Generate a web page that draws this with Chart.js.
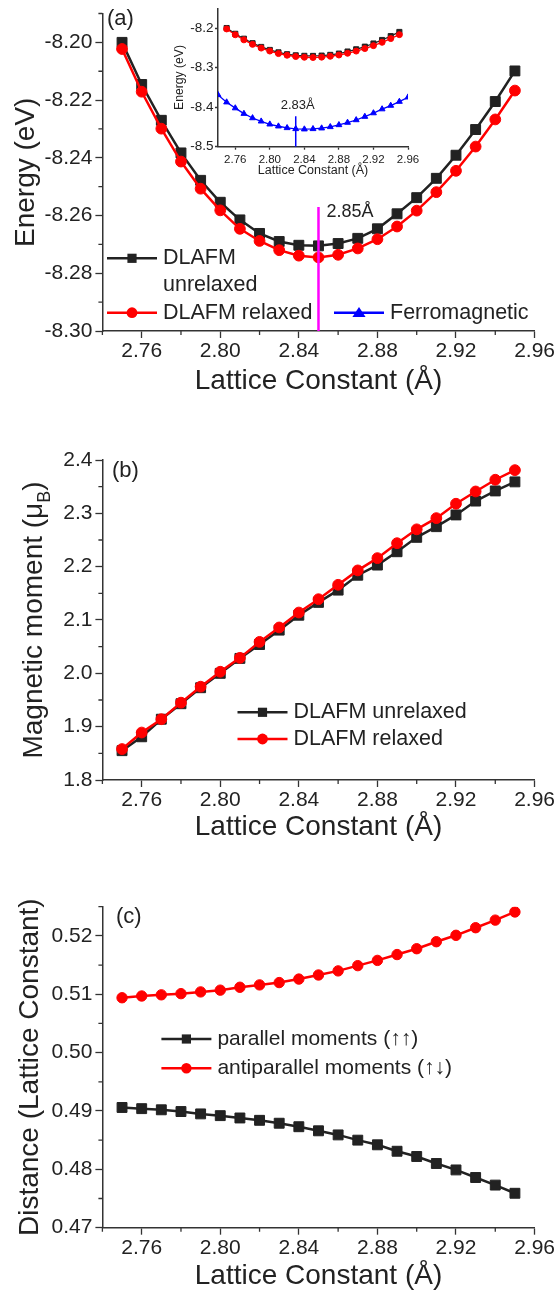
<!DOCTYPE html>
<html>
<head>
<meta charset="utf-8">
<title>DLAFM energy, moment and distance vs lattice constant</title>
<script src="https://cdn.jsdelivr.net/npm/chart.js@4.4.1/dist/chart.umd.min.js"></script>
<style>
  html, body { margin: 0; padding: 0; background: #fff; }
  body { position: relative; width: 558px; height: 1292px; overflow: hidden; }
  canvas { position: absolute; left: 0; }
</style>
</head>
<body>
<canvas id="energy" width="558" height="400" style="top:0"></canvas>
<canvas id="energyInset" width="265" height="182" style="top:0;left:160px"></canvas>
<canvas id="moment" width="558" height="420" style="top:430px"></canvas>
<canvas id="distance" width="558" height="412" style="top:880px"></canvas>
<script>
// lattice constants (Å) used for the DLAFM runs
const lattice = [2.75, 2.76, 2.77, 2.78, 2.79, 2.80, 2.81, 2.82, 2.83, 2.84, 2.85,
                 2.86, 2.87, 2.88, 2.89, 2.90, 2.91, 2.92, 2.93, 2.94, 2.95];
// ferromagnetic run (inset) covers a slightly wider range
const latticeFerro = [2.74, 2.75, 2.76, 2.77, 2.78, 2.79, 2.80, 2.81, 2.82, 2.83, 2.84, 2.85,
                      2.86, 2.87, 2.88, 2.89, 2.90, 2.91, 2.92, 2.93, 2.94, 2.95, 2.96];

// (a) total energy, eV
const energyUnrelaxed = [-8.2000, -8.2146, -8.2270, -8.2383, -8.2478, -8.2554, -8.2615, -8.2662, -8.2690, -8.2703, -8.2705,
                         -8.2697, -8.2679, -8.2646, -8.2594, -8.2538, -8.2471, -8.2391, -8.2302, -8.2205, -8.2099];
const energyRelaxed = [-8.2023, -8.2171, -8.2299, -8.2413, -8.2507, -8.2582, -8.2646, -8.2688, -8.2720, -8.2739, -8.2745,
                       -8.2736, -8.2714, -8.2682, -8.2638, -8.2583, -8.2519, -8.2445, -8.2361, -8.2267, -8.2167];
const energyFerro = [-8.369, -8.3875, -8.4025, -8.4165, -8.4275, -8.4358, -8.4433, -8.4483, -8.4525, -8.4550, -8.4558, -8.4550,
                     -8.4533, -8.4500, -8.4450, -8.4390, -8.4325, -8.4240, -8.4150, -8.4050, -8.3960, -8.3860, -8.3750];

// (b) magnetic moment, muB
const momentUnrelaxed = [1.855, 1.881, 1.914, 1.943, 1.973, 2.000, 2.028, 2.054, 2.081, 2.109, 2.133,
                         2.156, 2.184, 2.203, 2.228, 2.255, 2.275, 2.297, 2.323, 2.342, 2.359];
const momentRelaxed = [1.858, 1.889, 1.914, 1.945, 1.975, 2.003, 2.029, 2.059, 2.086, 2.114, 2.139,
                       2.166, 2.193, 2.216, 2.244, 2.270, 2.291, 2.318, 2.341, 2.363, 2.381];

// (c) distance in units of the lattice constant
const distParallel = [0.4906, 0.4904, 0.4902, 0.4899, 0.4895, 0.4892, 0.4888, 0.4884, 0.4879, 0.4873, 0.4866,
                      0.4859, 0.4850, 0.4842, 0.4831, 0.4822, 0.4810, 0.4799, 0.4786, 0.4773, 0.4759];
const distAntiparallel = [0.5094, 0.5097, 0.5099, 0.5101, 0.5104, 0.5107, 0.5112, 0.5116, 0.5120, 0.5126, 0.5133,
                          0.5140, 0.5149, 0.5158, 0.5168, 0.5178, 0.5190, 0.5201, 0.5214, 0.5227, 0.5241];

// energy minima marked with vertical lines
const minRelaxed = { x: 2.85, from: -8.30, to: -8.257, label: '2.85Å' };
const minFerro = { x: 2.83, from: -8.50, to: -8.423, label: '2.83Å' };

// tick labels
const latticeTicks = [2.76, 2.80, 2.84, 2.88, 2.92, 2.96];
const latticeMinor = [2.74, 2.78, 2.82, 2.86, 2.90, 2.94];
const energyTicks = [-8.30, -8.28, -8.26, -8.24, -8.22, -8.20];
const energyMinor = [-8.29, -8.27, -8.25, -8.23, -8.21, -8.19];
const insetEnergyTicks = [-8.5, -8.4, -8.3, -8.2];
const momentTicks = [1.8, 1.9, 2.0, 2.1, 2.2, 2.3, 2.4];
const momentMinor = [1.85, 1.95, 2.05, 2.15, 2.25, 2.35];
const distTicks = [0.47, 0.48, 0.49, 0.50, 0.51, 0.52];
const distMinor = [0.475, 0.485, 0.495, 0.505, 0.515, 0.525];

const FONT = "'Liberation Sans', Arial, Helvetica, sans-serif";
const BLACK = '#222222';
const RED = '#ff0000';
const BLUE = '#0000ff';
const AXIS = '#333333';
Chart.defaults.font.family = FONT;
Chart.defaults.color = BLACK;

const pts = (xs, ys) => xs.map((x, i) => ({ x: x, y: ys[i] }));

function series(ys, xs, color, style, r, width, order) {
  return {
    data: pts(xs, ys), borderColor: color, backgroundColor: color, borderWidth: width,
    pointStyle: style, pointRadius: r, pointHoverRadius: r, pointBackgroundColor: color,
    pointBorderColor: color, pointBorderWidth: 1, tension: 0, order: order
  };
}

function vline(m, color, width) {
  return {
    data: [{ x: m.x, y: m.from }, { x: m.x, y: m.to }], borderColor: color, borderWidth: width,
    pointRadius: 0, order: -1
  };
}

function xAxis(o) {
  return {
    type: 'linear', min: 2.74, max: 2.96,
    afterBuildTicks: s => { s.ticks = latticeTicks.map(v => ({ value: v })); },
    afterFit: s => { s.height = o.height; },
    grid: { drawOnChartArea: false, tickLength: o.tickLength, tickWidth: 1.3, tickColor: AXIS },
    border: { color: AXIS, width: 1.5 },
    ticks: { font: { size: o.size, lineHeight: 1 }, color: BLACK, padding: o.pad, autoSkip: false,
             maxRotation: 0, callback: v => v.toFixed(2) },
    title: { display: true, text: 'Lattice Constant (Å)', color: BLACK,
             font: { size: o.titleSize, lineHeight: 1 }, padding: { top: 0, bottom: o.titlePad } }
  };
}

function yAxis(o) {
  return {
    type: 'linear', min: o.min, max: o.max,
    afterBuildTicks: s => { s.ticks = o.ticks.map(v => ({ value: v })); },
    afterFit: s => { s.width = o.width; },
    grid: { drawOnChartArea: false, tickLength: o.tickLength, tickWidth: 1.3, tickColor: AXIS },
    border: { color: AXIS, width: 1.5 },
    ticks: { font: { size: o.size, lineHeight: 1 }, color: BLACK, padding: o.pad, autoSkip: false,
             callback: v => v.toFixed(o.digits) }
  };
}

function marker(ctx, style, x, y, r, color) {
  ctx.fillStyle = color;
  ctx.beginPath();
  if (style === 'rect') ctx.rect(x - r, y - r, 2 * r, 2 * r);
  else if (style === 'circle') ctx.arc(x, y, r, 0, 2 * Math.PI);
  else { ctx.moveTo(x, y - r * 1.05); ctx.lineTo(x + r * 1.2, y + r * 0.8); ctx.lineTo(x - r * 1.2, y + r * 0.8); ctx.closePath(); }
  ctx.fill();
}

// minor ticks, rotated y title, panel tag, legend and notes
const decor = {
  id: 'decor',
  afterDraw(chart, args, o) {
    const ctx = chart.ctx, a = chart.chartArea, xs = chart.scales.x, ys = chart.scales.y;
    ctx.save();
    ctx.strokeStyle = AXIS;
    ctx.lineWidth = 1.3;
    ctx.beginPath();
    (o.xMinor || []).forEach(v => {
      const p = xs.getPixelForValue(v);
      ctx.moveTo(p, a.bottom); ctx.lineTo(p, a.bottom + o.minorLen);
    });
    (o.yMinor || []).forEach(v => {
      const p = ys.getPixelForValue(v);
      ctx.moveTo(a.left, p); ctx.lineTo(a.left - o.minorLen, p);
    });
    ctx.stroke();

    if (o.yTitle) {
      const t = o.yTitle;
      ctx.save();
      ctx.translate(t.x, (a.top + a.bottom) / 2);
      ctx.rotate(-Math.PI / 2);
      ctx.fillStyle = BLACK;
      ctx.textBaseline = 'alphabetic';
      ctx.textAlign = 'left';
      const fontOf = sub => (sub ? t.subSize : t.size) + 'px ' + FONT;
      let total = 0;
      t.parts.forEach(([s, sub]) => { ctx.font = fontOf(sub); total += ctx.measureText(s).width; });
      let cx = -total / 2;
      t.parts.forEach(([s, sub]) => {
        ctx.font = fontOf(sub);
        ctx.fillText(s, cx, sub ? t.subShift : 0);
        cx += ctx.measureText(s).width;
      });
      ctx.restore();
    }

    ctx.fillStyle = BLACK;
    ctx.textBaseline = 'middle';
    ctx.textAlign = 'left';
    if (o.tag) {
      ctx.font = o.tag.size + 'px ' + FONT;
      ctx.fillText(o.tag.text, o.tag.x, o.tag.y);
    }

    (o.legend || []).forEach(it => {
      ctx.strokeStyle = it.color;
      ctx.lineWidth = 2.5;
      ctx.beginPath();
      ctx.moveTo(it.x1, it.y); ctx.lineTo(it.x2, it.y);
      ctx.stroke();
      marker(ctx, it.style, (it.x1 + it.x2) / 2, it.y, it.r, it.color);
      ctx.fillStyle = BLACK;
      ctx.font = o.legendSize + 'px ' + FONT;
      it.lines.forEach((s, k) => ctx.fillText(s, it.x2 + 6, it.y + k * 26.7));
    });

    (o.notes || []).forEach(n => {
      ctx.font = n.size + 'px ' + FONT;
      ctx.textAlign = n.align;
      ctx.fillText(n.text, xs.getPixelForValue(n.x) + n.dx, ys.getPixelForValue(n.y) + n.dy);
    });
    ctx.restore();
  }
};

const base = {
  responsive: false,
  animation: false,
  events: [],
  plugins: { legend: { display: false }, tooltip: { enabled: false } }
};

// (a) energy
new Chart(document.getElementById('energy'), {
  type: 'line',
  data: { datasets: [
    vline(minRelaxed, '#ff00ff', 2.5),
    series(energyRelaxed, lattice, RED, 'circle', 5.4, 2.5, 0),
    series(energyUnrelaxed, lattice, BLACK, 'rect', 7, 2.5, 1)
  ] },
  options: Object.assign({}, base, {
    layout: { padding: { top: 11.7, right: 23, left: 0, bottom: 0 } },
    scales: {
      x: xAxis({ height: 69, tickLength: 7, size: 21, pad: 3, titleSize: 28, titlePad: 4.5 }),
      y: yAxis({ min: -8.30, max: -8.19, ticks: energyTicks, width: 102.4, tickLength: 7, size: 21, pad: 3, digits: 2 })
    },
    plugins: Object.assign({}, base.plugins, { decor: {
      minorLen: 4, xMinor: latticeMinor, yMinor: energyMinor,
      yTitle: { parts: [['Energy (eV)', 0]], x: 34, size: 28 },
      tag: { text: '(a)', x: 107, y: 19, size: 22 },
      legendSize: 21.5,
      legend: [
        { lines: ['DLAFM', 'unrelaxed'], color: BLACK, style: 'rect', r: 4.6, x1: 107, x2: 157, y: 258.3 },
        { lines: ['DLAFM relaxed'], color: RED, style: 'circle', r: 5.4, x1: 107, x2: 157, y: 312.7 },
        { lines: ['Ferromagnetic'], color: BLUE, style: 'triangle', r: 5.5, x1: 334, x2: 384, y: 312.7 }
      ],
      notes: [{ text: minRelaxed.label, x: minRelaxed.x, y: minRelaxed.to, dx: 8, dy: 5, size: 18, align: 'left' }]
    } })
  }),
  plugins: [decor]
});

// (a) inset, all three magnetic configurations
new Chart(document.getElementById('energyInset'), {
  type: 'line',
  data: { datasets: [
    vline(minFerro, BLUE, 1.5),
    series(energyRelaxed, lattice, RED, 'circle', 3, 1.3, 0),
    series(energyUnrelaxed, lattice, BLACK, 'rect', 3.6, 1.3, 1),
    series(energyFerro, latticeFerro, BLUE, 'triangle', 3.4, 1.3, 2)
  ] },
  options: Object.assign({}, base, {
    layout: { padding: { top: 6, right: 17, left: 0, bottom: 0 } },
    scales: {
      x: xAxis({ height: 35.3, tickLength: 3, size: 11.5, pad: 4.5, titleSize: 12.5, titlePad: 5.3 }),
      y: yAxis({ min: -8.5, max: -8.15, ticks: insetEnergyTicks, width: 58, tickLength: 3, size: 13.5, pad: 1.5, digits: 1 })
    },
    plugins: Object.assign({}, base.plugins, { decor: {
      minorLen: 0,
      yTitle: { parts: [['Energy (eV)', 0]], x: 23, size: 12.2 },
      notes: [{ text: minFerro.label, x: minFerro.x, y: minFerro.to, dx: 2, dy: -11, size: 13, align: 'center' }]
    } })
  }),
  plugins: [decor]
});

// (b) magnetic moment
new Chart(document.getElementById('moment'), {
  type: 'line',
  data: { datasets: [
    series(momentRelaxed, lattice, RED, 'circle', 5.4, 2.5, 0),
    series(momentUnrelaxed, lattice, BLACK, 'rect', 7, 2.5, 1)
  ] },
  options: Object.assign({}, base, {
    layout: { padding: { top: 30, right: 23, left: 0, bottom: 0 } },
    scales: {
      x: xAxis({ height: 70, tickLength: 7, size: 21, pad: 3, titleSize: 28, titlePad: 9 }),
      y: yAxis({ min: 1.8, max: 2.4, ticks: momentTicks, width: 102.4, tickLength: 7, size: 21, pad: 3, digits: 1 })
    },
    plugins: Object.assign({}, base.plugins, { decor: {
      minorLen: 4, xMinor: latticeMinor, yMinor: momentMinor,
      yTitle: { parts: [['Magnetic moment (μ', 0], ['B', 1], [')', 0]], x: 42, size: 28, subSize: 18, subShift: 8 },
      tag: { text: '(b)', x: 112, y: 41, size: 22 },
      legendSize: 21.5,
      legend: [
        { lines: ['DLAFM unrelaxed'], color: BLACK, style: 'rect', r: 4.6, x1: 237.5, x2: 287.5, y: 282.3 },
        { lines: ['DLAFM relaxed'], color: RED, style: 'circle', r: 5.4, x1: 237.5, x2: 287.5, y: 309 }
      ]
    } })
  }),
  plugins: [decor]
});

// (c) neighbour distance
new Chart(document.getElementById('distance'), {
  type: 'line',
  data: { datasets: [
    series(distAntiparallel, lattice, RED, 'circle', 5.2, 2.5, 0),
    series(distParallel, lattice, BLACK, 'rect', 7, 2.5, 1)
  ] },
  options: Object.assign({}, base, {
    layout: { padding: { top: 26.7, right: 23, left: 0, bottom: 0 } },
    scales: {
      x: xAxis({ height: 64.3, tickLength: 7, size: 21, pad: 3, titleSize: 28, titlePad: 2 }),
      y: yAxis({ min: 0.47, max: 0.525, ticks: distTicks, width: 102.4, tickLength: 7, size: 21, pad: 3, digits: 2 })
    },
    plugins: Object.assign({}, base.plugins, { decor: {
      minorLen: 4, xMinor: latticeMinor, yMinor: distMinor,
      yTitle: { parts: [['Distance (Lattice Constant)', 0]], x: 37.5, size: 28 },
      tag: { text: '(c)', x: 116, y: 37, size: 22 },
      legendSize: 21,
      legend: [
        { lines: ['parallel moments (↑↑)'], color: BLACK, style: 'rect', r: 4.6, x1: 161.4, x2: 211.4, y: 159 },
        { lines: ['antiparallel moments (↑↓)'], color: RED, style: 'circle', r: 5.2, x1: 161.4, x2: 211.4, y: 188.3 }
      ]
    } })
  }),
  plugins: [decor]
});
</script>
</body>
</html>
